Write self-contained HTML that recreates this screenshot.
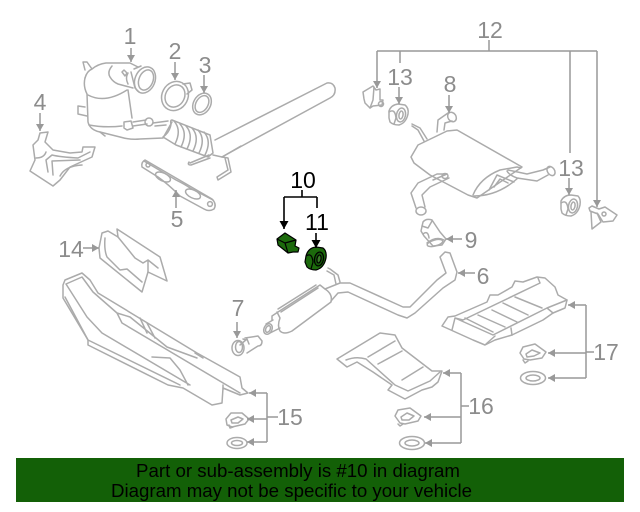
<!DOCTYPE html>
<html><head><meta charset="utf-8"><style>
html,body{margin:0;padding:0;background:#fff}
svg{display:block}
text{font-family:"Liberation Sans",sans-serif}
.n{font-size:23px;fill:#8c8c8c;text-anchor:middle}
.b{font-size:23px;fill:#000;text-anchor:middle}
</style></head><body>
<svg width="640" height="512" viewBox="0 0 640 512" xmlns="http://www.w3.org/2000/svg">
<defs>
<marker id="a" markerUnits="userSpaceOnUse" markerWidth="9" markerHeight="9" refX="7" refY="4" orient="auto"><path d="M0 0L7 4L0 8z" fill="#999"/></marker>
<marker id="k" markerUnits="userSpaceOnUse" markerWidth="10" markerHeight="10" refX="8" refY="4.5" orient="auto"><path d="M0 0L8 4.5L0 9z" fill="#000"/></marker>
</defs>
<g fill="none" stroke="#ababab" stroke-width="1.5" stroke-linejoin="round" stroke-linecap="round">
<!-- catalytic converter -->
<path d="M85 78Q87 71 92 69L87 62L83 62L85 70M92 69Q98 64 106 63L130 63L138 67"/>
<path d="M85 78Q83 86 87 94L88 122Q90 130 100 132L120 137Q130 140 140 139L163 138L172 122"/>
<path d="M88 95Q105 104 127 90M128 90L132 118M112 66Q107 72 110 77Q113 82 118 84L133 88"/>
<path d="M85 107L78 106L78 114L87 116"/>
<path d="M124 122L131 121L133 128L127 130L124 128zM89 125Q105 128 122 126M100 132L105 136"/>
<ellipse cx="145" cy="80" rx="10" ry="13.5" transform="rotate(22 145 80)"/>
<ellipse cx="146" cy="80" rx="7" ry="10.5" transform="rotate(22 146 80)"/>
<path d="M134 69L141 66M131 72L135 88L139 92M128 73Q125 78 128 84M122 72L124 70L127 73L125 76z"/>
<path d="M133 122L146 120M133 126L147 124M153 123L168 121M155 126L166 125"/>
<circle cx="149" cy="122" r="4"/>
<path d="M163 137Q170 132 171 124Q170 120 172 120L210 135L213 153L208 157L176 145L163 137"/>
<path d="M174 121Q182 130 175 144M180 124Q188 133 181 147M186 126Q194 135 187 149M192 128Q200 137 193 151M198 130Q206 139 199 153M204 132Q212 141 205 155"/>
<path d="M215 140L327 83Q333 82 335 88Q336 95 330 98L240 147L222 157L213 155"/>
<path d="M190 163L209 155M189 162Q187 165 191 165L210 158"/>
<path d="M222 157L228 158L231 172L218 180L217 177L228 170L225 158"/>
<path d="M241 146L222 157"/>
<!-- clamp 2 -->
<ellipse cx="175" cy="96" rx="13" ry="15" transform="rotate(28 175 96)"/>
<ellipse cx="175" cy="96" rx="9.5" ry="11.5" transform="rotate(28 175 96)"/>
<path d="M183 84L190 83L192 90L187 94"/>
<!-- ring 3 -->
<ellipse cx="202" cy="104" rx="8.5" ry="11.5" transform="rotate(30 202 104)"/>
<ellipse cx="202" cy="104" rx="6" ry="9" transform="rotate(30 202 104)"/>
<!-- bracket 4 -->
<path d="M30 171L35 160L33 145L38 140L40 133L48 132L45 142L53 150L70 153L82 152L83 147L95 147L92 157L70 167L60 180L53 186z"/>
<path d="M36 158Q44 158 46 152M48 172L46 160L52 155Q60 157 78 158L90 152M53 175L52 161L80 160M60 176Q65 166 82 165"/>
<!-- gasket 5 -->
<path d="M145 160L212 199Q217 204 214 209Q209 212 204 209L180 196Q168 184 158 177L142 167Q141 162 145 160z"/>
<path d="M144 161L176 180Q186 185 190 188L213 200"/>
<ellipse cx="163" cy="177" rx="8" ry="4" transform="rotate(25 163 177)"/>
<ellipse cx="193" cy="194" rx="8" ry="4" transform="rotate(25 193 194)"/>
<circle cx="148" cy="165" r="2"/><circle cx="210" cy="204" r="2.4"/>
<!-- heat shield 14 -->
<path d="M99 248L102 233L108 231L118 237L117 229L160 257L167 281L148 272L142 292L100 258z"/>
<path d="M105 238Q104 250 107 257L120 270L127 269L142 282M118 237L135 258L143 263L148 260L158 268M148 272L148 260"/>
<!-- shield 15 -->
<path d="M63 285L65 280L82 273L90 280L98 293L197 353L240 377L242 388L248 393L240 395L223 388L222 403L212 405L183 388L168 385L88 345L88 340L63 298z"/>
<path d="M66 284L82 277L93 292L117 313L122 323L240 393M66 284L87 317L102 333L190 385M65 297L88 340L180 385M117 313L130 317L167 347L197 358M140 318L147 333M147 323L155 338M152 357L170 358L180 370L188 385M195 353L203 358M223 388L223 385"/>
<!-- washers left -->
<path d="M226 419L231 413L242 413L249 419L245 424L232 427L227 425z"/>
<path d="M231 420L238 417L243 419L238 423L232 423zM229 425L230 428L233 427"/>
<ellipse cx="237" cy="443" rx="10" ry="5.5"/>
<ellipse cx="237" cy="443" rx="5.5" ry="2.5"/>
<!-- clamp 7 -->
<path d="M245 338L258 336L262 341Q262 346 258 346L247 353"/>
<path d="M240 345L247 339L249 344M246 340L243 339"/>
<ellipse cx="238" cy="348" rx="6" ry="7.5"/><ellipse cx="239" cy="347" rx="3.5" ry="5.5"/>
<!-- main rear muffler and pipe -->
<ellipse cx="268" cy="329" rx="4" ry="5.5" transform="rotate(25 268 329)"/><ellipse cx="268" cy="329" rx="2.2" ry="3.5" transform="rotate(25 268 329)"/>
<path d="M266 324L273 320M270 333L280 328"/>
<path d="M272 320L272 316L278 312L320 285L325 289Q333 294 331 302L292 331Q284 335 280 331Q277 326 280 318L277 312"/>
<path d="M281 312L318 288M278 309L316 285"/>
<path d="M325 289L340 283L350 283L403 307L410 307L437 280L446 273L440 257L445 252L450 253L457 272L455 280L443 288L415 313L407 318L398 315L348 292L338 293L331 301"/>
<path d="M328 268L330 269L338 275L340 282M327 271L334 275L336 284"/>
<!-- shield 17 -->
<path d="M442 326L448 317L455 316L487 302L490 295L498 295L512 287L515 281L523 282L537 277L545 278L555 287L558 295L567 300L565 308L553 313L543 320L512 335L495 340L485 345L473 340z"/>
<path d="M455 318L463 320L540 283L538 278M455 318L493 335L547 308L567 300M455 318L452 330M465 318L493 332M478 315L505 327M492 310L517 322M503 303L528 315M515 297L542 308M486 344L495 336M512 335L511 328M547 308L553 313"/>
<!-- washers 17 -->
<path d="M520 353L523 347L535 344L546 352L542 358L530 360L524 359z"/>
<path d="M526 354L532 350L540 353L534 356L527 357zM523 360L525 363L528 361"/>
<ellipse cx="533" cy="378" rx="12.5" ry="6.5"/><ellipse cx="533" cy="378" rx="7" ry="3"/>
<!-- shield 16 -->
<path d="M337 359L380 333L395 335L402 348L432 371L442 371L438 382L432 387L422 390L405 399L388 390L392 385L373 372L357 362L347 367z"/>
<path d="M346 360Q356 356 366 359L395 385L408 391L430 381L440 372M368 357L395 341M378 364L402 351M402 380L423 367"/>
<!-- washers 16 -->
<path d="M395 416L398 410L410 408L421 416L418 421L405 424L400 423z"/>
<path d="M401 417L407 413L414 416L409 420L402 420zM398 424L400 426L403 424"/>
<ellipse cx="412" cy="443" rx="12.5" ry="6.5"/><ellipse cx="412" cy="443" rx="7" ry="3"/>
<!-- mount -->
<path d="M363 92L373 86L376 90L380 89L380 100L383 100L382 105L373 106L370 108L365 103L364 99z"/><circle cx="381" cy="104" r="2.5"/>
<path d="M374 87L373 100L370 108"/>
<!-- grommets 13 -->
<path d="M389 111Q391 105 398 104L405 105Q409 108 408 114Q406 123 399 125Q393 125 390 122L389 118z"/>
<path d="M389 112Q395 108 396 118L394 124"/>
<ellipse cx="401" cy="115" rx="4.5" ry="7" transform="rotate(10 401 115)"/><ellipse cx="401" cy="115" rx="2" ry="4" transform="rotate(10 401 115)"/>
<path d="M561 201Q564 195 571 195L578 196Q581 199 580 205Q578 214 571 216Q565 216 562 213L561 209z"/>
<path d="M561 203Q567 199 568 209L566 215"/>
<ellipse cx="573" cy="206" rx="4.5" ry="7" transform="rotate(10 573 206)"/><ellipse cx="573" cy="206" rx="2" ry="4" transform="rotate(10 573 206)"/>
<!-- right bracket -->
<path d="M589 208L592 206L599 209L605 207L617 215L613 221L603 222L598 214L590 211zM591 212L592 229L601 222L597 213"/>
<circle cx="604" cy="214" r="2"/>
<!-- rear muffler -->
<path d="M411 157L418 145L447 131L457 130L522 167L477 198L468 195L430 175L414 163z"/>
<path d="M473 195Q480 178 500 170L517 167L521 168M474 196Q498 196 518 178M489 190L497 175L514 182M494 187L500 179L508 183"/>
<path d="M508 170L527 174L543 170L550 167M517 178L537 181L548 175M507 171Q509 175 517 178"/>
<ellipse cx="551" cy="171" rx="3.5" ry="5" transform="rotate(-35 551 171)"/>
<path d="M437 132L438 120L448 113M444 130L445 123L452 121"/>
<ellipse cx="452" cy="117" rx="4" ry="5" transform="rotate(-35 452 117)"/>
<path d="M412 124L420 128L427 139M412 126L418 130L424 141"/>
<path d="M447 174L437 174L418 183L411 193L416 208M449 178L430 187L422 195L425 207"/>
<ellipse cx="445" cy="176" rx="3" ry="2.5"/>
<path d="M433 180L447 174"/>
<ellipse cx="421" cy="211" rx="5" ry="4"/>
<!-- clamp 9 -->
<path d="M423 222Q426 218 432 220L440 232L446 239L442 245L433 246L424 236L421 231z"/>
<path d="M422 226L428 228L432 221M423 234Q428 230 429 238M427 243Q436 236 444 240"/>
<ellipse cx="435" cy="243" rx="8" ry="3" transform="rotate(-15 435 243)"/>
</g>
<!-- leader lines -->
<g fill="none" stroke="#999" stroke-width="1.5">
<path d="M131 48V62" marker-end="url(#a)"/>
<path d="M175 62V80" marker-end="url(#a)"/>
<path d="M204 75V93" marker-end="url(#a)"/>
<path d="M40 113V131" marker-end="url(#a)"/>
<path d="M176 208V190" marker-end="url(#a)"/>
<path d="M449 95V113" marker-end="url(#a)"/>
<path d="M462 239H446" marker-end="url(#a)"/>
<path d="M475 273H458" marker-end="url(#a)"/>
<path d="M237 322V338" marker-end="url(#a)"/>
<path d="M83 248H99" marker-end="url(#a)"/>
<path d="M489 40V51M377 51H597"/>
<path d="M377 51V88" marker-end="url(#a)"/>
<path d="M400 51V63"/>
<path d="M399 87V104" marker-end="url(#a)"/>
<path d="M570 51V153"/>
<path d="M569 178V195" marker-end="url(#a)"/>
<path d="M597 51V207" marker-end="url(#a)"/>
<path d="M267 393H249" marker-end="url(#a)"/>
<path d="M267 393V442M267 417H278"/>
<path d="M267 419H247" marker-end="url(#a)"/>
<path d="M267 442H247" marker-end="url(#a)"/>
<path d="M461 373H443" marker-end="url(#a)"/>
<path d="M461 373V443M461 406H469"/>
<path d="M461 417H424" marker-end="url(#a)"/>
<path d="M461 443H425" marker-end="url(#a)"/>
<path d="M586 305H568" marker-end="url(#a)"/>
<path d="M586 305V378M586 352H594"/>
<path d="M586 353H548" marker-end="url(#a)"/>
<path d="M586 378H548" marker-end="url(#a)"/>
</g>
<!-- highlighted parts -->
<g stroke="#000" stroke-width="1.2" stroke-linejoin="round">
<path d="M277 239L285 233L296 240L295 246L299 248L298 252L293 252L288 253L278 245z" fill="#1c6a0c"/>
<path d="M285 243L288 253M285 243L296 240M277 239L285 243" fill="none"/>
<path d="M306 256Q308 248 316 247L323 248Q327 251 326 258Q324 268 316 270Q310 270 307 267L305 262z" fill="#1c6a0c"/>
<path d="M306 256Q312 252 313 262L311 269" fill="none"/>
<ellipse cx="319" cy="259" rx="4.5" ry="7" fill="#145a08" transform="rotate(10 319 259)"/>
<ellipse cx="319" cy="259" rx="2" ry="4" fill="#3a7a2a" transform="rotate(10 319 259)"/>
</g>
<g fill="none" stroke="#000" stroke-width="1.6">
<path d="M302 190V197M284 197H317M317 197V208"/>
<path d="M284 197V229" marker-end="url(#k)"/>
<path d="M316 233V248" marker-end="url(#k)"/>
</g>
<!-- labels -->
<text class="n" x="130" y="44">1</text>
<text class="n" x="175" y="59">2</text>
<text class="n" x="205" y="73">3</text>
<text class="n" x="40" y="110">4</text>
<text class="n" x="177" y="227">5</text>
<text class="n" x="483" y="284">6</text>
<text class="n" x="238" y="316">7</text>
<text class="n" x="450" y="92">8</text>
<text class="n" x="471" y="248">9</text>
<text class="b" x="303" y="188">10</text>
<text class="b" x="317" y="230">11</text>
<text class="n" x="490" y="38">12</text>
<text class="n" x="400" y="85">13</text>
<text class="n" x="571" y="176">13</text>
<text class="n" x="71" y="257">14</text>
<text class="n" x="290" y="425">15</text>
<text class="n" x="481" y="414">16</text>
<text class="n" x="606" y="360">17</text>
<!-- banner -->
<rect x="16" y="458" width="608" height="44" fill="#136007"/>
<text x="136" y="477" font-size="18" fill="#000" textLength="324" lengthAdjust="spacingAndGlyphs">Part or sub-assembly is #10 in diagram</text>
<text x="111" y="497" font-size="18" fill="#000" textLength="361" lengthAdjust="spacingAndGlyphs">Diagram may not be specific to your vehicle</text>
</svg>
</body></html>
